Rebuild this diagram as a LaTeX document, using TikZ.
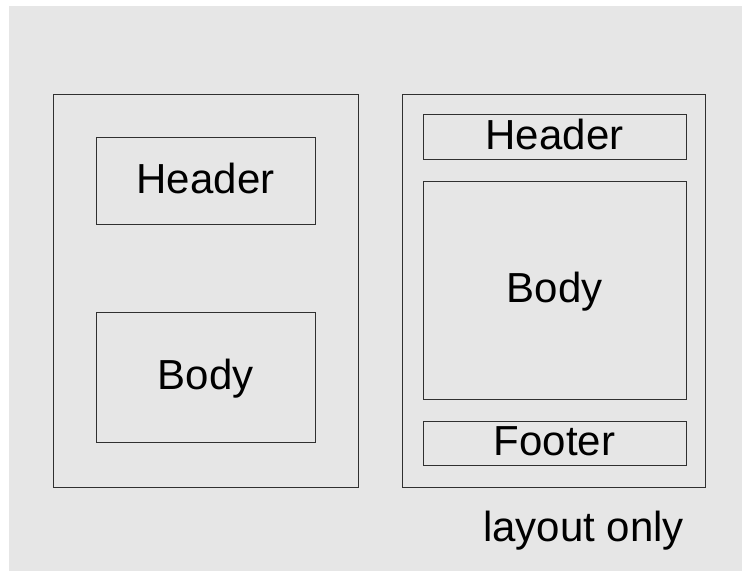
\documentclass[tikz,border=0pt]{standalone}
\usepackage{fontspec}
\setmainfont{Liberation Sans}
\definecolor{bggray}{HTML}{E6E6E6}
\definecolor{edge}{HTML}{303030}

\tikzset{
  frame/.style={draw=edge, line width=1pt, fill=bggray, inner sep=0pt},
  part/.style={draw=edge, line width=1pt, fill=bggray, inner sep=0pt,
    font=\fontsize{42}{50}\selectfont, text height=31pt, text depth=6pt},
}

\begin{document}
\begin{tikzpicture}[x=1pt, y=-1pt]
  \useasboundingbox (0, 0) rectangle (742, 571);
  % background
  \fill[bggray] (9, 6) rectangle (742, 571);

  % Left page
  \node[frame, minimum width=305pt, minimum height=393pt] (frameL) at (205.5, 290.5) {};
  \node[part, minimum width=219pt, minimum height=87pt] (headL) at (205.5, 180.5) {Header};
  \node[part, minimum width=219pt, minimum height=130pt] (bodyL) at (205.5, 377) {Body};

  % Right page
  \node[frame, minimum width=303pt, minimum height=393pt] (frameR) at (553.5, 290.5) {};
  \node[part, minimum width=263pt, minimum height=45pt] (headR) at (554.5, 136.5) {Header};
  \node[part, minimum width=263pt, minimum height=218pt] (bodyR) at (554.5, 290) {Body};
  \node[part, minimum width=263pt, minimum height=44pt] (footR) at (554.5, 443) {Footer};

  % Caption
  \node[font=\fontsize{42}{50}\selectfont, anchor=base, inner sep=0pt] (note) at (583.5, 541) {layout only};
\end{tikzpicture}
\end{document}
